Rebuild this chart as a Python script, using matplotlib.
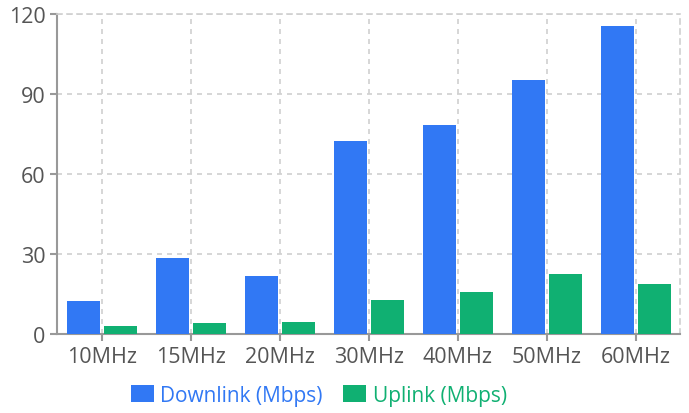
import matplotlib
matplotlib.use('Agg')
import matplotlib.pyplot as plt
import numpy as np

plt.rcParams['font.family'] = ['Open Sans', 'DejaVu Sans']

# 数据
bands = ['10MHz', '15MHz', '20MHz', '30MHz', '40MHz', '50MHz', '60MHz']
downlink = [12.5, 28.5, 21.7, 72.2, 78.4, 95.2, 115.6]
uplink = [3.0, 4.0, 4.6, 12.6, 15.7, 22.5, 18.7]

blue = '#3178F4'
green = '#10B072'
grey = '#999999'

fig = plt.figure(figsize=(6.89, 4.14), dpi=100)
ax = fig.add_axes([0.083, 0.191, 0.904, 0.773])

x = np.arange(len(bands))
w = 0.37
ax.bar(x - 0.208, downlink, w, color=blue, label='Downlink (Mbps)', zorder=3)
ax.bar(x + 0.208, uplink, w, color=green, label='Uplink (Mbps)', zorder=3)

ax.set_xlim(-0.5, len(bands) - 0.5)
ax.set_ylim(0, 120)
ax.set_yticks([0, 30, 60, 90, 120])
ax.set_xticks(x)
ax.set_xticklabels(bands)

# 网格和边框
ax.grid(True, linestyle=(0, (3, 3)), color='#d0d0d0', linewidth=1.2, zorder=0)
for s in ['left', 'bottom']:
    ax.spines[s].set_color(grey)
    ax.spines[s].set_linewidth(1.5)
for s in ['top', 'right']:
    ax.spines[s].set_color('#d0d0d0')
    ax.spines[s].set_linestyle((0, (3, 3)))
    ax.spines[s].set_linewidth(1.2)
ax.tick_params(colors=grey, labelcolor='#555555', labelsize=15.5, length=5, width=1.5)

leg = ax.legend(loc='upper center', bbox_to_anchor=(0.42, -0.1), ncol=2, frameon=False,
                fontsize=15, handlelength=1.1, handleheight=0.9, handletextpad=0.3,
                columnspacing=1.0)
for t, c in zip(leg.get_texts(), [blue, green]):
    t.set_color(c)

plt.savefig('out.png', dpi=100)
